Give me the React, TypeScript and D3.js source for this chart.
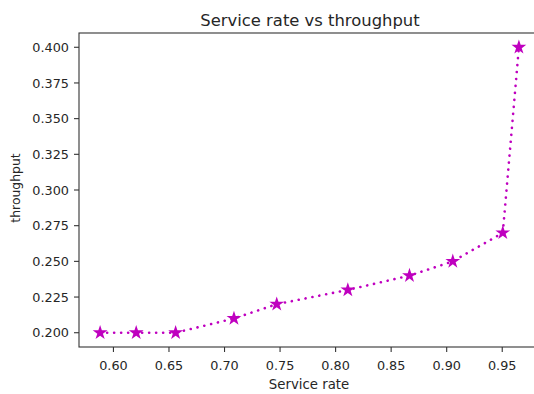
import React from 'react';
import * as d3 from 'd3';

// values
const serviceRate = [0.588, 0.6205, 0.656, 0.7085, 0.747, 0.811, 0.8665, 0.9055, 0.9505, 0.965];
const throughput = [0.2, 0.2, 0.2, 0.21, 0.22, 0.23, 0.24, 0.25, 0.27, 0.4];
const xTicks = [0.6, 0.65, 0.7, 0.75, 0.8, 0.85, 0.9, 0.95];
const yTicks = [0.2, 0.225, 0.25, 0.275, 0.3, 0.325, 0.35, 0.375, 0.4];

const width = 534;
const height = 394;
const margin = { top: 33, right: -6, bottom: 47, left: 79 };
const font = '"DejaVu Sans", sans-serif';
const magenta = '#bf00bf';
const ink = '#262626';

export default function App() {
  const data = serviceRate.map((s, i) => ({ s, t: throughput[i] }));

  const x = d3.scaleLinear()
    .domain([0.569, 0.984])
    .range([margin.left, width - margin.right]);
  const y = d3.scaleLinear()
    .domain([0.19, 0.41])
    .range([height - margin.bottom, margin.top]);

  const line = d3.line<{ s: number; t: number }>()
    .x(d => x(d.s))
    .y(d => y(d.t));

  const star = d3.symbol().type(d3.symbolStar).size(68)();

  const left = margin.left;
  const right = width - margin.right;
  const top = margin.top;
  const bottom = height - margin.bottom;

  return (
    <svg width={width} height={height}
      style={{ position: 'fixed', left: 0, top: 0, background: '#fff' }}
      fontFamily={font}>
      <rect x={0} y={0} width={width} height={height} fill="#fff" />
      <text x={310} y={26} textAnchor="middle" fontSize={16.4} fill={ink}>
        Service rate vs throughput
      </text>

      <path d={line(data) ?? ''} fill="none" stroke={magenta} strokeWidth={2.6}
        strokeDasharray="0.1 6.9" strokeLinecap="round" />
      {data.map((d, i) => (
        <path key={i} d={star} transform={`translate(${x(d.s)},${y(d.t)})`} fill={magenta} />
      ))}

      {/* spines */}
      <rect x={left} y={top} width={right - left} height={bottom - top}
        fill="none" stroke="#333" strokeWidth={1.1} />

      {xTicks.map(t => (
        <g key={t} transform={`translate(${x(t)},${bottom})`}>
          <line y1={0} y2={5} stroke="#333" strokeWidth={1.1} />
          <text y={23} textAnchor="middle" fontSize={12.8} fill={ink}>{t.toFixed(2)}</text>
        </g>
      ))}
      {yTicks.map(t => (
        <g key={t} transform={`translate(${left},${y(t)})`}>
          <line x1={0} x2={-5} stroke="#333" strokeWidth={1.1} />
          <text x={-10} dy="0.36em" textAnchor="end" fontSize={12.8} fill={ink}>{t.toFixed(3)}</text>
        </g>
      ))}

      <text x={309} y={389} textAnchor="middle" fontSize={13.3} fill={ink}>
        Service rate
      </text>
      <text transform={`translate(20,188) rotate(-90)`} textAnchor="middle"
        fontSize={12.4} fill={ink}>
        throughput
      </text>
    </svg>
  );
}
